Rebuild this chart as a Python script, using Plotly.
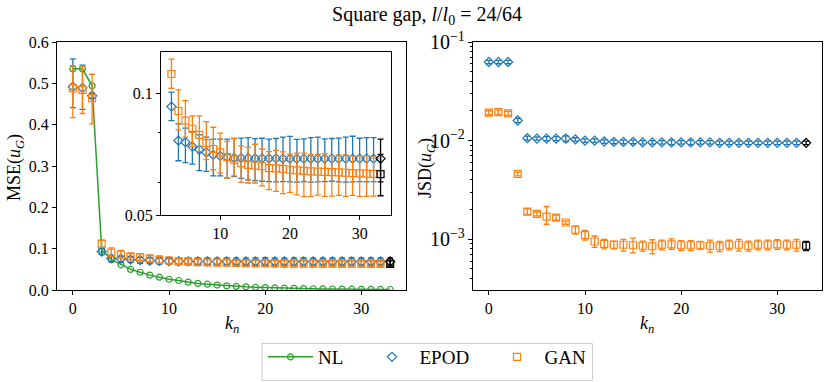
import plotly.graph_objects as go

# k_n index, 0..33 ; last point (33) is the black reference
k_all = list(range(34))
k_col = list(range(33))
k_ref = [33]

# --- MSE(u_G) ---
nl_mse = [0.535, 0.535, 0.494, 0.097, 0.074, 0.061, 0.050, 0.043, 0.036, 0.031,
          0.026, 0.023, 0.019, 0.016, 0.014, 0.012, 0.010, 0.0088, 0.0077, 0.0067,
          0.0058, 0.0050, 0.0044, 0.0039, 0.0034, 0.0030, 0.0027, 0.0024, 0.0021,
          0.0019, 0.0017, 0.0015, 0.0013, 0.0012]

epod_mse = [0.492, 0.489, 0.470, 0.0927, 0.0764, 0.0757, 0.0738, 0.0725, 0.0714, 0.0704,
            0.0700, 0.0695, 0.0692, 0.0691, 0.0691, 0.0690, 0.0690, 0.0690, 0.0690, 0.0689,
            0.0689, 0.0689, 0.0689, 0.0689, 0.0689, 0.0689, 0.0689, 0.0689, 0.0689, 0.0689,
            0.0689, 0.0689, 0.0689]
epod_mse_up = [0.067, 0.055, 0.006, 0.0079, 0.0076, 0.0063, 0.0066, 0.0064, 0.0065, 0.0066,
               0.0070, 0.0075, 0.0080, 0.0084, 0.0086, 0.0082, 0.0084, 0.0080, 0.0083, 0.0090,
               0.0093, 0.0080, 0.0082, 0.0088, 0.0090, 0.0082, 0.0084, 0.0086, 0.0090, 0.0094,
               0.0085, 0.0088, 0.0088]
epod_mse_dn = [0.051, 0.052, 0.006, 0.0071, 0.0083, 0.0083, 0.0070, 0.0081, 0.0073, 0.0079,
               0.0075, 0.0078, 0.0070, 0.0075, 0.0080, 0.0082, 0.0084, 0.0085, 0.0086, 0.0084,
               0.0085, 0.0086, 0.0084, 0.0086, 0.0085, 0.0084, 0.0083, 0.0085, 0.0086, 0.0085,
               0.0084, 0.0085, 0.0084]

gan_mse = [0.488, 0.484, 0.464, 0.1116, 0.0904, 0.0856, 0.0817, 0.0789, 0.0753, 0.0728,
           0.0714, 0.0695, 0.0685, 0.0672, 0.0665, 0.0662, 0.0660, 0.0653, 0.0652, 0.0650,
           0.0647, 0.0645, 0.0643, 0.0641, 0.0640, 0.0639, 0.0638, 0.0637, 0.0636, 0.0635,
           0.0634, 0.0633, 0.0632]
gan_mse_up = [0.055, 0.058, 0.058, 0.0099, 0.0115, 0.0103, 0.0062, 0.0090, 0.0098, 0.0096,
              0.0083, 0.0065, 0.0089, 0.0069, 0.0070, 0.0086, 0.0068, 0.0064, 0.0070, 0.0066,
              0.0060, 0.0066, 0.0068, 0.0064, 0.0066, 0.0070, 0.0064, 0.0066, 0.0068, 0.0065,
              0.0066, 0.0068, 0.0064]
gan_mse_dn = [0.071, 0.057, 0.062, 0.0087, 0.0092, 0.0077, 0.0079, 0.0071, 0.0068, 0.0081,
              0.0079, 0.0078, 0.0060, 0.0070, 0.0065, 0.0062, 0.0070, 0.0075, 0.0080, 0.0085,
              0.0078, 0.0084, 0.0088, 0.0085, 0.0080, 0.0083, 0.0081, 0.0078, 0.0080, 0.0076,
              0.0078, 0.0077, 0.0075]

ref_epod_mse, ref_epod_mse_up, ref_epod_mse_dn = [0.0689], [0.0081], [0.0085]
ref_gan_mse, ref_gan_mse_up, ref_gan_mse_dn = [0.0631], [0.0075], [0.0073]

# --- JSD(u_G) ---
epod_jsd = [0.0627, 0.0627, 0.0627, 0.0160, 0.0106, 0.0105, 0.0105, 0.0105, 0.0105, 0.0103,
            0.0100, 0.0100, 0.0098, 0.0097, 0.0097, 0.0097, 0.0096, 0.0096, 0.0096, 0.0096,
            0.0096, 0.0096, 0.0096, 0.0096, 0.0095, 0.0095, 0.0095, 0.0095, 0.0095, 0.0095,
            0.0095, 0.0095, 0.0095]
epod_jsd_err = [0.0025, 0.0025, 0.0025, 0.0008, 0.0005, 0.0004, 0.0005, 0.0005, 0.0007, 0.0004,
                0.0004, 0.0004, 0.0004, 0.0004, 0.0004, 0.0004, 0.0004, 0.0004, 0.0004, 0.0005,
                0.0004, 0.0005, 0.0004, 0.0004, 0.0004, 0.0004, 0.0004, 0.0004, 0.0004, 0.0004,
                0.0004, 0.0004, 0.0004]
gan_jsd = [0.0192, 0.0195, 0.0189, 0.00459, 0.00191, 0.00181, 0.00170, 0.00166, 0.00148, 0.00125,
           0.00110, 0.00095, 0.00090, 0.00088, 0.00088, 0.00087, 0.00086, 0.00085, 0.00088, 0.00089,
           0.00087, 0.00087, 0.00087, 0.00086, 0.00085, 0.00088, 0.00088, 0.00086, 0.00088, 0.00088,
           0.00089, 0.00088, 0.00088]
gan_jsd_up = [0.0009, 0.0009, 0.0009, 0.00020, 0.00012, 0.00008, 0.00045, 0.00010, 0.00006, 0.00012,
              0.00013, 0.00013, 0.00010, 0.00008, 0.00012, 0.00016, 0.00010, 0.00014, 0.00010, 0.00012,
              0.00010, 0.00010, 0.00008, 0.00012, 0.00010, 0.00010, 0.00012, 0.00010, 0.00010, 0.00010,
              0.00010, 0.00010, 0.00012]
gan_jsd_dn = [0.0009, 0.0009, 0.0009, 0.00020, 0.00012, 0.00008, 0.00028, 0.00010, 0.00006, 0.00012,
              0.00012, 0.00012, 0.00010, 0.00008, 0.00012, 0.00014, 0.00010, 0.00014, 0.00010, 0.00010,
              0.00010, 0.00010, 0.00008, 0.00012, 0.00010, 0.00010, 0.00012, 0.00010, 0.00010, 0.00010,
              0.00010, 0.00010, 0.00012]
ref_epod_jsd, ref_epod_jsd_err = [0.0095], [0.0004]
ref_gan_jsd, ref_gan_jsd_err = [0.00086], [0.00009]

BLUE, ORANGE, GREEN = "#1f77b4", "#ff7f0e", "#2ca02c"
FONT = "Liberation Serif"


def err_trace(x, y, up, dn, color, symbol, xa, ya, name=None, legend=None, size=7):
    return go.Scatter(
        x=x, y=y, mode="markers", name=name, showlegend=legend is not None,
        legend=legend or "legend",
        xaxis=xa, yaxis=ya,
        marker=dict(symbol=symbol, size=size, color=color, line=dict(width=1.2, color=color)),
        error_y=dict(type="data", array=up, arrayminus=dn, color=color, thickness=1.3, width=3),
    )


fig = go.Figure()

# left panel
fig.add_trace(go.Scatter(x=k_all, y=nl_mse, mode="lines+markers", name="NL", legend="legend",
                         line=dict(color=GREEN, width=1.5),
                         marker=dict(symbol="circle-open", size=6, color=GREEN, line=dict(width=1.2)),
                         xaxis="x", yaxis="y"))
fig.add_trace(err_trace(k_col, epod_mse, epod_mse_up, epod_mse_dn, BLUE, "diamond-open", "x", "y", "EPOD", "legend2"))
fig.add_trace(err_trace(k_col, gan_mse, gan_mse_up, gan_mse_dn, ORANGE, "square-open", "x", "y", "GAN", "legend3"))
fig.add_trace(err_trace(k_ref, ref_epod_mse, ref_epod_mse_up, ref_epod_mse_dn, "black", "diamond-open", "x", "y"))
fig.add_trace(err_trace(k_ref, ref_gan_mse, ref_gan_mse_up, ref_gan_mse_dn, "black", "square-open", "x", "y"))

# right panel
fig.add_trace(err_trace(k_col, epod_jsd, epod_jsd_err, epod_jsd_err, BLUE, "diamond-open", "x2", "y2"))
fig.add_trace(err_trace(k_col, gan_jsd, gan_jsd_up, gan_jsd_dn, ORANGE, "square-open", "x2", "y2"))
fig.add_trace(err_trace(k_ref, ref_epod_jsd, ref_epod_jsd_err, ref_epod_jsd_err, "black", "diamond-open", "x2", "y2"))
fig.add_trace(err_trace(k_ref, ref_gan_jsd, ref_gan_jsd_err, ref_gan_jsd_err, "black", "square-open", "x2", "y2"))

# inset (k >= 3)
fig.add_trace(err_trace(k_col[3:], epod_mse[3:], epod_mse_up[3:], epod_mse_dn[3:], BLUE, "diamond-open", "x3", "y3"))
fig.add_trace(err_trace(k_col[3:], gan_mse[3:], gan_mse_up[3:], gan_mse_dn[3:], ORANGE, "square-open", "x3", "y3"))
fig.add_trace(err_trace(k_ref, ref_epod_mse, ref_epod_mse_up, ref_epod_mse_dn, "black", "diamond-open", "x3", "y3"))
fig.add_trace(err_trace(k_ref, ref_gan_mse, ref_gan_mse_up, ref_gan_mse_dn, "black", "square-open", "x3", "y3"))

W, H = 830, 382


def px_x(a, b):
    return [a / W, b / W]


def px_y(top, bottom):
    return [1 - bottom / H, 1 - top / H]


axis_common = dict(showline=True, linecolor="black", linewidth=1, mirror=True, automargin=False,
                   ticks="outside", ticklen=4, tickwidth=1, tickcolor="black",
                   showgrid=False, zeroline=False, tickfont=dict(family=FONT, size=16, color="black"))

leg_common = dict(orientation="h", xanchor="left", yanchor="middle", y=1 - 357 / H,
                  borderwidth=0, bgcolor="rgba(0,0,0,0)", itemwidth=45,
                  font=dict(family=FONT, size=19, color="black"))

label_common = dict(xref="paper", yref="paper", xanchor="center", yanchor="middle",
                    showarrow=False, font=dict(family=FONT, size=18, color="black"))

fig.update_layout(
    template="none",
    width=W, height=H, margin=dict(l=0, r=0, t=0, b=0, pad=0),
    paper_bgcolor="white", plot_bgcolor="white",
    font=dict(family=FONT, size=16, color="black"),
    title=dict(text="Square gap, <i>l</i>/<i>l</i><sub>0</sub> = 24/64",
               x=427 / W, xanchor="center", y=1 - 14 / H, yanchor="middle",
               font=dict(family=FONT, size=20)),
    xaxis=dict(domain=px_x(57, 406), range=[-1.65, 34.65], tickvals=[0, 10, 20, 30],
               anchor="y", **axis_common),
    yaxis=dict(domain=px_y(42, 290), range=[0, 0.6], tickvals=[0, 0.1, 0.2, 0.3, 0.4, 0.5, 0.6],
               tickformat=".1f", anchor="x", **axis_common),
    xaxis2=dict(domain=px_x(473, 822), range=[-1.65, 34.65], tickvals=[0, 10, 20, 30],
                anchor="y2", **axis_common),
    yaxis2=dict(domain=px_y(42, 290), type="log", range=[-3.514, -1], dtick=1,
                exponentformat="power", anchor="x2",
                minor=dict(ticks="outside", ticklen=2, tickcolor="black", showgrid=False),
                **axis_common),
    xaxis3=dict(domain=px_x(161, 391), range=[1.5, 34.5], tickvals=[10, 20, 30],
                anchor="y3", **axis_common),
    yaxis3=dict(domain=px_y(52, 215), type="log", range=[-1.301, -0.898],
                tickvals=[0.05, 0.1], ticktext=["0.05", "0.1"], anchor="x3",
                minor=dict(ticks="outside", ticklen=2, tickcolor="black", tickvals=[0.06, 0.08]),
                **axis_common),
    legend=dict(x=263 / W, **leg_common),
    legend2=dict(x=364.5 / W, **leg_common),
    legend3=dict(x=489.5 / W, **leg_common),
    shapes=[dict(type="rect", xref="paper", yref="paper",
                 x0=262 / W, x1=592.5 / W, y0=1 - 380.5 / H, y1=1 - 343.5 / H,
                 line=dict(color="#cccccc", width=1), fillcolor="rgba(0,0,0,0)")],
    annotations=[
        dict(text="MSE(<i>u<sub>G</sub></i>)", x=15 / W, y=1 - 168 / H, textangle=-90, **label_common),
        dict(text="JSD(<i>u<sub>G</sub></i>)", x=426 / W, y=1 - 168 / H, textangle=-90, **label_common),
        dict(text="<i>k<sub>n</sub></i>", x=232 / W, y=1 - 324 / H, **label_common),
        dict(text="<i>k<sub>n</sub></i>", x=647 / W, y=1 - 324 / H, **label_common),
    ],
)

fig.write_html("out.html", config={"displayModeBar": False},
               post_script="document.body.style.margin='0px';")
